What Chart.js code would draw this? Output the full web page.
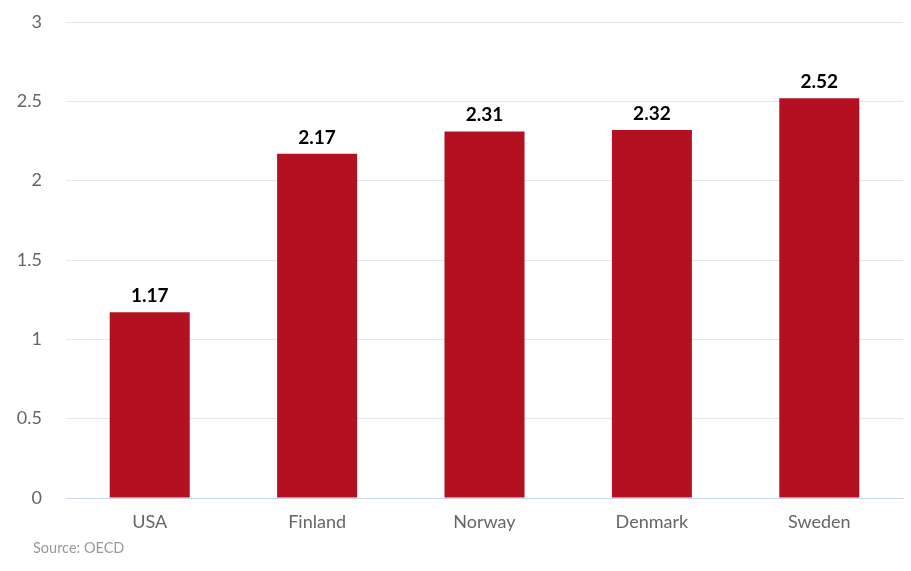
<!DOCTYPE html>
<html>
<head>
<meta charset="utf-8">
<script src="https://cdn.jsdelivr.net/npm/chart.js@4"></script>
<style>
  html, body { margin: 0; padding: 0; background: #fff; }
  #chart { display: block; }
</style>
</head>
<body>
<canvas id="chart" width="911" height="571"></canvas>
<script>
// Data
const countries = ['USA', 'Finland', 'Norway', 'Denmark', 'Sweden'];
const values = [1.17, 2.17, 2.31, 2.32, 2.52];
const yTicks = [0, 0.5, 1, 1.5, 2, 2.5, 3];
const sourceText = 'Source: OECD';

const FONT = 'Lato, "Open Sans", sans-serif';

/**
 * Value labels above each bar
 */
const valueLabels = {
    id: 'valueLabels',
    afterDatasetsDraw(chart) {
        const ctx = chart.ctx;
        const meta = chart.getDatasetMeta(0);
        ctx.save();
        ctx.font = 'bold 19px ' + FONT;
        ctx.textAlign = 'center';
        ctx.textBaseline = 'alphabetic';
        ctx.lineJoin = 'round';
        meta.data.forEach((bar, i) => {
            const text = values[i].toFixed(2);
            ctx.lineWidth = 3;
            ctx.strokeStyle = '#ffffff';
            ctx.strokeText(text, bar.x, bar.y - 10);
            ctx.fillStyle = '#000000';
            ctx.fillText(text, bar.x, bar.y - 10);
        });
        ctx.restore();
    }
};

/**
 * Source credit bottom left
 */
const sourceNote = {
    id: 'sourceNote',
    afterDraw(chart) {
        const ctx = chart.ctx;
        ctx.save();
        ctx.font = '14.5px ' + FONT;
        ctx.fillStyle = '#999999';
        ctx.textAlign = 'left';
        ctx.textBaseline = 'middle';
        ctx.fillText(sourceText, 33, 548);
        ctx.restore();
    }
};

new Chart(document.getElementById('chart'), {
    type: 'bar',
    data: {
        labels: countries,
        datasets: [{
            data: values,
            backgroundColor: '#b31122',
            borderWidth: 0,
            barPercentage: 0.478,
            categoryPercentage: 1
        }]
    },
    options: {
        responsive: false,
        animation: false,
        layout: { padding: { top: 0, right: 8, left: 0, bottom: 0 } },
        plugins: {
            legend: { display: false },
            tooltip: { enabled: false }
        },
        scales: {
            x: {
                afterFit(scale) { scale.height = 73; },
                grid: { display: false },
                border: { display: true, color: '#ccd6eb', width: 1 },
                ticks: {
                    color: '#666666',
                    padding: 5,
                    font: { family: FONT, size: 18 }
                }
            },
            y: {
                min: 0,
                max: 3,
                afterFit(scale) {
                    scale.width = 66;
                    scale.paddingTop = 22;
                },
                afterBuildTicks(scale) {
                    scale.ticks = yTicks.map(v => ({ value: v }));
                },
                border: { display: false },
                grid: {
                    drawTicks: false,
                    color: ctx => ctx.tick && ctx.tick.value === 0 ? 'rgba(0,0,0,0)' : '#e6e6e6'
                },
                ticks: {
                    color: '#666666',
                    padding: 24,
                    font: { family: FONT, size: 18 },
                    callback: v => String(v)
                }
            }
        }
    },
    plugins: [valueLabels, sourceNote]
});
</script>
</body>
</html>
